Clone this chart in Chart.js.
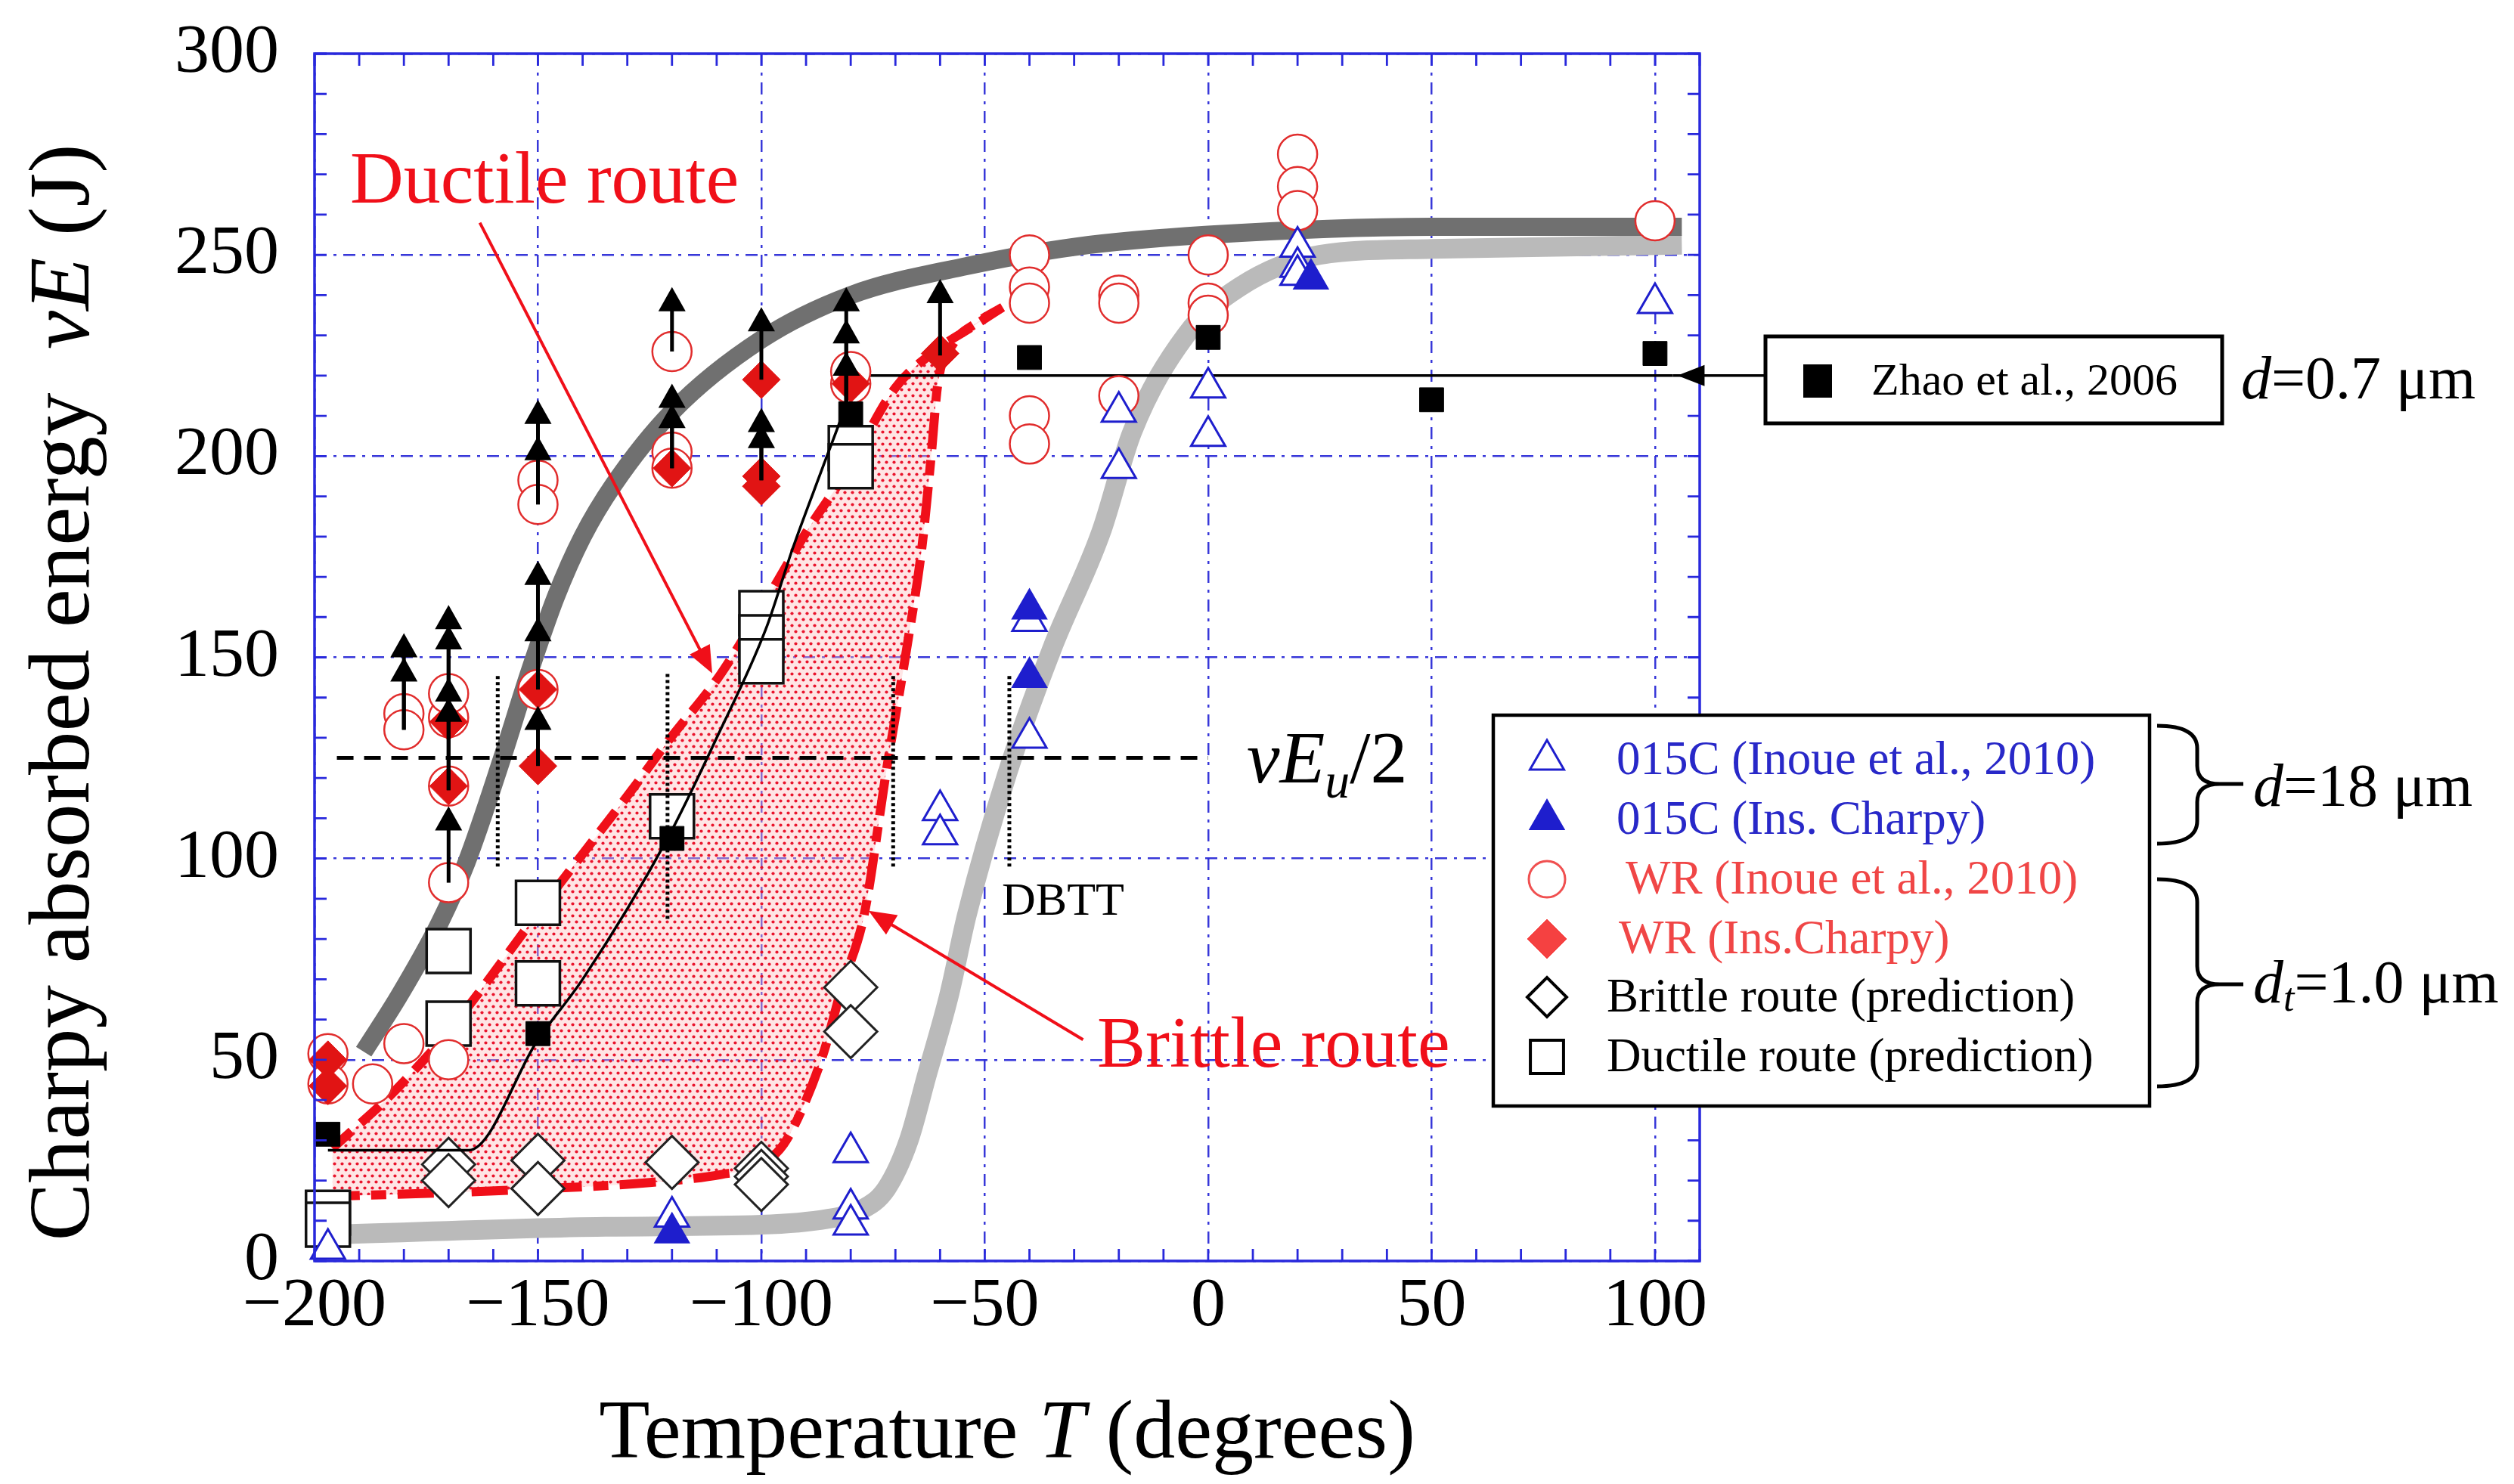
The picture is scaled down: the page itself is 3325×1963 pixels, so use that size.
<!DOCTYPE html>
<html>
<head>
<meta charset="utf-8">
<title>Charpy absorbed energy vs temperature</title>
<script src="https://cdn.jsdelivr.net/npm/chart.js@4.4.1/dist/chart.umd.min.js"></script>
<style>
  html, body { margin: 0; padding: 0; background: #ffffff; }
  #wrap { position: relative; width: 3325px; height: 1963px; }
</style>
</head>
<body>
<div id="wrap"><canvas id="chart" width="3325" height="1963"></canvas></div>
<script>
// ---- axes ----
const xTickValues = [-200, -150, -100, -50, 0, 50, 100];
const yTickValues = [0, 50, 100, 150, 200, 250, 300];

// ---- thick grey fit curves ----
const wrFitT = [-189, -181, -172, -166, -158, -152, -146, -140, -133, -120, -100, -80, -55, -30, 0, 50, 106];
const wrFitE = [52, 66, 84, 99, 125, 146, 165, 180, 193, 211, 229, 240, 247, 252, 255, 257, 257];
const c015FitT = [-198, -135, -100, -85, -78, -72, -67, -63, -58, -54, -45, -35, -24, -17, -5, 7, 25, 50, 106];
const c015FitE = [6.5, 8.5, 9, 10.5, 12.5, 18, 30, 46, 66, 86, 121, 152, 181, 206, 230, 242, 250, 251.5, 252.5];

// ---- predicted route envelopes (dotted band between them) ----
const ductRouteT = [-196, -192, -185, -178, -170, -163, -155, -147, -138, -129, -121, -109, -99, -90, -81, -70, -60, -53, -46];
const ductRouteE = [28, 32, 39, 47, 57, 67, 79, 91, 104, 117, 129, 146, 164, 181, 196, 217, 227, 232, 237];
const brittleRouteT = [-198, -170, -148, -125, -109, -100, -95, -90, -86, -82, -77, -72, -67.5, -64, -62, -60.5, -57, -52, -46];
const brittleRouteE = [16, 17, 18, 19.5, 21.5, 24, 29, 40, 52, 68, 86, 122, 152, 178, 200, 218, 228, 233, 237];

// ---- Zhao et al. fit, vEu/2 level, DBTT markers ----
const zhaoFitT = [-197, -165.5, -150, -140, -121, -110, -99, -93, -86, -81, -79, 104];
const zhaoFitE = [27.5, 27.5, 55, 70, 105, 130, 157, 177, 198, 213, 220, 220];
const halfT = [-195, 0];
const halfE = [125, 125];
const dbttT = [-159, -121, -70.5, -44.5];
const dbttLow = [98, 85, 98, 98];
const dbttHigh = [146, 146, 146, 146];

// ---- measured / predicted points ----
const c015T = [-197, -120, -80, -80, -80, -60, -60, -40, -40, -20, -20, 0, 0, 20, 20, 20, 100];
const c015E = [3, 11, 27, 13, 9, 112, 106, 159, 130, 197, 211, 217, 205, 252, 247, 245, 238];
const c015InsT = [-120, -40, -40, 23];
const c015InsE = [7, 162, 145, 244];
const wrT = [-197, -197, -187, -180, -180, -180, -170, -170, -170, -170, -170, -150, -150, -150, -120, -120, -120, -80, -80, -40, -40, -40, -40, -40, -20, -20, -20, 0, 0, 0, 20, 20, 20, 100];
const wrE = [51.5, 44, 44, 54, 136, 132, 50, 94, 118, 135, 141, 142, 194, 188, 226, 201, 197, 218, 221, 250, 242, 238, 210, 203, 240, 238, 215, 250, 238, 235, 275, 267, 261, 258.5];
const wrInsT = [-197, -197, -170, -170, -150, -150, -120, -100, -100, -100, -80, -60];
const wrInsE = [50, 43.5, 134, 118, 142, 123, 197, 219, 195, 192.5, 218, 225.5];
const brittlePredT = [-170, -170, -150, -150, -120, -100, -100, -100, -80, -80];
const brittlePredE = [24, 20, 25, 18, 24.5, 23, 21, 19, 68, 57];
const ductilePredT = [-197, -197, -170, -170, -150, -150, -120, -100, -100, -100, -80, -80];
const ductilePredE = [12, 9, 77, 59, 89, 69, 110.5, 161, 155, 149, 202, 197.5];
const zhaoT = [-197, -150, -120, -80, -40, 0, 50, 100];
const zhaoE = [31.5, 56.5, 105, 210.5, 224.5, 229.5, 214, 225.5];

// ---- lower-bound arrows (specimen not broken) ----
const arrowT = [-180, -180, -170, -170, -170, -170, -170, -150, -150, -150, -150, -150, -120, -120, -120, -100, -100, -100, -81, -81, -81, -60];
const arrowFrom = [132, 132, 94, 117, 117, 134, 134, 123, 142, 142, 188, 188, 226, 197, 197, 219, 194, 194, 211, 211, 211, 225];
const arrowTo = [150, 156, 113, 158, 163, 140, 145, 138, 160, 174, 205, 214, 242, 213, 218, 237, 208, 212, 226, 234, 242, 244];

// ---- annotation pointers ----
const ductileArrowT = [-163, -111];
const ductileArrowE = [258, 146];
const brittleArrowT = [-28, -76];
const brittleArrowE = [55, 87];
const zhaoLevel = 220;

const serif = "'Liberation Serif', 'Times New Roman', serif";
const BLUE = 'rgb(30,30,205)';
const GRID = 'rgba(45,45,215,0.95)';
const RED = 'rgb(240,15,25)';
const CIRCLE_RED = 'rgb(225,45,45)';

const pts = (xs, ys) => xs.map((x, i) => ({ x: x, y: ys[i] }));

const canvas = document.getElementById('chart');
const mainCtx = canvas.getContext('2d');

function dotPattern() {
    const c = document.createElement('canvas');
    c.width = 10;
    c.height = 16;
    const g = c.getContext('2d');
    g.fillStyle = 'rgba(255,190,190,0.4)';
    g.fillRect(0, 0, 10, 16);
    g.fillStyle = 'rgba(232,10,35,0.95)';
    [[2.5, 3.5], [7.5, 11.5]].forEach(p => {
        g.beginPath();
        g.arc(p[0], p[1], 2.1, 0, Math.PI * 2);
        g.fill();
    });
    return mainCtx.createPattern(c, 'repeat');
}
const dots = dotPattern();

function curve(label, xs, ys, color, width, order, extra) {
    return Object.assign({
        label: label,
        data: pts(xs, ys),
        showLine: true,
        pointRadius: 0,
        borderColor: color,
        borderWidth: width,
        backgroundColor: color,
        fill: false,
        cubicInterpolationMode: 'monotone',
        clip: false,
        order: order
    }, extra || {});
}

function marks(label, xs, ys, style, r, fill, stroke, lw, order) {
    return {
        label: label,
        data: pts(xs, ys),
        showLine: false,
        pointStyle: style,
        pointRadius: r,
        pointBackgroundColor: fill,
        pointBorderColor: stroke,
        pointBorderWidth: lw,
        borderColor: stroke,
        backgroundColor: fill,
        clip: false,
        order: order
    };
}

const datasets = [
    curve('015C fit', c015FitT, c015FitE, 'rgb(186,186,186)', 26, 40),
    curve('WR fit', wrFitT, wrFitE, 'rgb(112,112,112)', 24, 39),
    curve('Ductile route', ductRouteT, ductRouteE, RED, 12, 38, {
        borderDash: [34, 16],
        backgroundColor: dots,
        fill: { target: '+1', above: dots, below: dots }
    }),
    curve('Brittle route', brittleRouteT, brittleRouteE, RED, 12, 37, { borderDash: [48, 15, 20, 15] }),
    marks('Ductile route (prediction)', ductilePredT, ductilePredE, 'rect', 41, '#ffffff', '#111111', 3.5, 30),
    marks('Brittle route (prediction)', brittlePredT, brittlePredE, 'rectRot', 35, '#ffffff', '#222222', 3, 29),
    curve('vEu/2', halfT, halfE, '#000000', 5, 27, { borderDash: [22, 14], cubicInterpolationMode: 'default', tension: 0 }),
    curve('Zhao fit', zhaoFitT, zhaoFitE, '#000000', 3.5, 26)
];
dbttT.forEach((t, i) => {
    datasets.push(curve('DBTT ' + t, [t, t], [dbttLow[i], dbttHigh[i]], '#000000', 5, 28,
        { borderDash: [4, 4], cubicInterpolationMode: 'default', tension: 0 }));
});
datasets.push(
    marks('WR (Inoue et al., 2010)', wrT, wrE, 'circle', 26, '#ffffff', CIRCLE_RED, 2.5, 20),
    marks('WR (Ins.Charpy)', wrInsT, wrInsE, 'rectRot', 25, 'rgb(225,20,20)', 'rgb(225,20,20)', 1, 19),
    marks('015C (Inoue et al., 2010)', c015T, c015E, 'triangle', 26, '#ffffff', BLUE, 3, 18),
    marks('015C (Ins. Charpy)', c015InsT, c015InsE, 'triangle', 26, BLUE, BLUE, 2, 17),
    marks('Zhao et al., 2006', zhaoT, zhaoE, 'rect', 22.5, '#000000', '#000000', 1, 16)
);

// ---- drawing helpers ----
const fontOf = r => (r.i ? 'italic ' : '') + r.s + 'px ' + serif;

function drawRuns(ctx, runs, x, y, align) {
    let w = 0;
    runs.forEach(r => { ctx.font = fontOf(r); w += ctx.measureText(r.t).width; });
    let cx = align === 'center' ? x - w / 2 : (align === 'right' ? x - w : x);
    ctx.textAlign = 'left';
    runs.forEach(r => {
        ctx.font = fontOf(r);
        ctx.fillText(r.t, cx, y + (r.dy || 0));
        cx += ctx.measureText(r.t).width;
    });
}

function head(ctx, tx, ty, ang, len, hw) {
    const bx = tx - Math.cos(ang) * len, by = ty - Math.sin(ang) * len;
    const nx = -Math.sin(ang) * hw, ny = Math.cos(ang) * hw;
    ctx.beginPath();
    ctx.moveTo(tx, ty);
    ctx.lineTo(bx + nx, by + ny);
    ctx.lineTo(bx - nx, by - ny);
    ctx.closePath();
    ctx.fill();
}

function marker(ctx, style, x, y, r, fill, stroke, lw) {
    ctx.beginPath();
    if (style === 'circle') {
        ctx.arc(x, y, r, 0, Math.PI * 2);
    } else if (style === 'triangle') {
        for (let k = 0; k < 3; k++) {
            const a = k * 2 * Math.PI / 3;
            const px = x + Math.sin(a) * r, py = y - Math.cos(a) * r;
            if (k === 0) ctx.moveTo(px, py); else ctx.lineTo(px, py);
        }
    } else if (style === 'rectRot') {
        ctx.moveTo(x - r, y); ctx.lineTo(x, y - r); ctx.lineTo(x + r, y); ctx.lineTo(x, y + r);
    } else {
        const s = r * Math.SQRT1_2;
        ctx.rect(x - s, y - s, 2 * s, 2 * s);
    }
    ctx.closePath();
    if (fill) { ctx.fillStyle = fill; ctx.fill(); }
    if (stroke) { ctx.strokeStyle = stroke; ctx.lineWidth = lw; ctx.stroke(); }
}

function brace(ctx, x0, xs, xt, yTop, yMid, yBot) {
    ctx.beginPath();
    ctx.moveTo(x0, yTop);
    ctx.quadraticCurveTo(xs, yTop, xs, yTop + 30);
    ctx.lineTo(xs, yMid - 24);
    ctx.quadraticCurveTo(xs, yMid, xs + 30, yMid);
    ctx.lineTo(xt, yMid);
    ctx.moveTo(xs + 30, yMid);
    ctx.quadraticCurveTo(xs, yMid, xs, yMid + 24);
    ctx.lineTo(xs, yBot - 30);
    ctx.quadraticCurveTo(xs, yBot, x0, yBot);
    ctx.stroke();
}

const legendRows = [
    { style: 'triangle', r: 26, fill: '#ffffff', stroke: BLUE, lw: 3, text: '015C (Inoue et al., 2010)', color: 'rgb(40,40,200)', tx: 2138, y: 1005 },
    { style: 'triangle', r: 26, fill: BLUE, stroke: BLUE, lw: 2, text: '015C (Ins. Charpy)', color: 'rgb(40,40,200)', tx: 2138, y: 1084 },
    { style: 'circle', r: 24, fill: '#ffffff', stroke: 'rgb(240,80,80)', lw: 3, text: 'WR (Inoue et al., 2010)', color: 'rgb(240,70,70)', tx: 2150, y: 1163 },
    { style: 'rectRot', r: 26, fill: 'rgb(245,65,65)', stroke: 'rgb(245,65,65)', lw: 1, text: 'WR (Ins.Charpy)', color: 'rgb(240,70,70)', tx: 2141, y: 1242 },
    { style: 'rectRot', r: 26, fill: '#ffffff', stroke: '#000000', lw: 4, text: 'Brittle route (prediction)', color: '#000000', tx: 2125, y: 1319 },
    { style: 'rect', r: 31, fill: '#ffffff', stroke: '#000000', lw: 4, text: 'Ductile route (prediction)', color: '#000000', tx: 2125, y: 1398 }
];

const decor = {
    id: 'decor',
    afterDatasetsDraw(chart) {
        const { ctx, chartArea: a, scales: { x, y } } = chart;
        ctx.save();

        // upward arrows
        ctx.fillStyle = '#000';
        ctx.strokeStyle = '#000';
        ctx.lineWidth = 5;
        arrowT.forEach((t, i) => {
            const px = x.getPixelForValue(t);
            const y0 = y.getPixelForValue(arrowFrom[i]);
            const y1 = y.getPixelForValue(arrowTo[i]);
            ctx.beginPath();
            ctx.moveTo(px, y0);
            ctx.lineTo(px, y1 + 22);
            ctx.stroke();
            head(ctx, px, y1, -Math.PI / 2, 32, 18);
        });

        // red pointers from the route labels
        ctx.strokeStyle = RED;
        ctx.fillStyle = RED;
        ctx.lineWidth = 4;
        [[ductileArrowT, ductileArrowE], [brittleArrowT, brittleArrowE]].forEach(([ts, es]) => {
            const x0 = x.getPixelForValue(ts[0]), y0 = y.getPixelForValue(es[0]);
            const x1 = x.getPixelForValue(ts[1]), y1 = y.getPixelForValue(es[1]);
            const ang = Math.atan2(y1 - y0, x1 - x0);
            ctx.beginPath();
            ctx.moveTo(x0, y0);
            ctx.lineTo(x1 - Math.cos(ang) * 25, y1 - Math.sin(ang) * 25);
            ctx.stroke();
            head(ctx, x1, y1, ang, 36, 15);
        });

        // frame + inward ticks
        ctx.strokeStyle = 'rgb(40,40,220)';
        ctx.lineWidth = 3.5;
        ctx.strokeRect(a.left, a.top, a.right - a.left, a.bottom - a.top);
        ctx.lineWidth = 2.8;
        ctx.beginPath();
        for (let v = -200; v <= x.max; v += 10) {
            const px = x.getPixelForValue(v);
            ctx.moveTo(px, a.bottom); ctx.lineTo(px, a.bottom - 16);
            ctx.moveTo(px, a.top); ctx.lineTo(px, a.top + 16);
        }
        for (let v = 0; v <= 300; v += 10) {
            const py = y.getPixelForValue(v);
            ctx.moveTo(a.left, py); ctx.lineTo(a.left + 16, py);
            ctx.moveTo(a.right, py); ctx.lineTo(a.right - 16, py);
        }
        ctx.stroke();
        ctx.restore();
    },
    afterDraw(chart) {
        const { ctx, chartArea: a, scales: { x, y } } = chart;
        ctx.save();
        ctx.fillStyle = '#000';
        ctx.textBaseline = 'alphabetic';

        // axis titles
        drawRuns(ctx, [{ t: 'Temperature ', s: 110 }, { t: 'T', i: true, s: 110 }, { t: ' (degrees)', s: 110 }],
            (a.left + a.right) / 2, 1928, 'center');
        ctx.save();
        ctx.translate(117, 916);
        ctx.rotate(-Math.PI / 2);
        drawRuns(ctx, [{ t: 'Charpy absorbed energy  ', s: 115 }, { t: 'vE', i: true, s: 115 }, { t: ' (J)', s: 115 }], 0, 0, 'center');
        ctx.restore();

        // in-plot labels
        ctx.fillStyle = RED;
        drawRuns(ctx, [{ t: 'Ductile route', s: 98 }], 463, 268, 'left');
        drawRuns(ctx, [{ t: 'Brittle route', s: 96 }], 1451, 1411, 'left');
        ctx.fillStyle = '#000';
        drawRuns(ctx, [{ t: 'vE', i: true, s: 98 }, { t: 'u', i: true, s: 66, dy: 20 }, { t: '/2', s: 98 }], 1649, 1035, 'left');
        drawRuns(ctx, [{ t: 'DBTT', s: 62 }], 1325, 1210, 'left');

        // Zhao et al. pointer and box
        const zy = y.getPixelForValue(zhaoLevel);
        ctx.strokeStyle = '#000';
        ctx.lineWidth = 3.5;
        ctx.beginPath();
        ctx.moveTo(x.getPixelForValue(104), zy);
        ctx.lineTo(2335, zy);
        ctx.stroke();
        ctx.fillStyle = '#000';
        head(ctx, x.getPixelForValue(105), zy, Math.PI, 36, 14);
        ctx.fillStyle = '#fff';
        ctx.fillRect(2335, 445, 604, 115);
        ctx.lineWidth = 5;
        ctx.strokeRect(2335, 445, 604, 115);
        ctx.fillStyle = '#000';
        ctx.fillRect(2385, 482, 38, 44);
        ctx.textBaseline = 'middle';
        drawRuns(ctx, [{ t: 'Zhao et al., 2006', s: 60 }], 2475, 506, 'left');
        drawRuns(ctx, [{ t: 'd', i: true, s: 80 }, { t: '=0.7 \u03bcm', s: 80 }], 2964, 506, 'left');

        // legend box
        ctx.fillStyle = '#fff';
        ctx.fillRect(1975, 946, 868, 517);
        ctx.strokeStyle = '#000';
        ctx.lineWidth = 4.5;
        ctx.strokeRect(1975, 946, 868, 517);
        legendRows.forEach(row => {
            marker(ctx, row.style, 2046, row.y, row.r, row.fill, row.stroke, row.lw);
            ctx.fillStyle = row.color;
            drawRuns(ctx, [{ t: row.text, s: 63 }], row.tx, row.y + 2, 'left');
        });

        // braces for grain size groups
        ctx.strokeStyle = '#000';
        ctx.lineWidth = 5;
        brace(ctx, 2853, 2906, 2967, 960, 1037, 1116);
        brace(ctx, 2853, 2906, 2967, 1163, 1302, 1437);
        ctx.fillStyle = '#000';
        drawRuns(ctx, [{ t: 'd', i: true, s: 80 }, { t: '=18 \u03bcm', s: 80 }], 2980, 1045, 'left');
        drawRuns(ctx, [{ t: 'd', i: true, s: 80 }, { t: 't', i: true, s: 52, dy: 18 }, { t: '=1.0 \u03bcm', s: 80 }], 2980, 1305, 'left');
        ctx.restore();
    }
};

const fmtTick = v => (v < 0 ? '\u2212' + Math.abs(v) : String(v));

new Chart(canvas, {
    type: 'line',
    data: { datasets: datasets },
    options: {
        responsive: false,
        animation: false,
        events: [],
        devicePixelRatio: 1,
        layout: { padding: { left: 0, top: 71, right: 1077, bottom: 0 } },
        plugins: {
            legend: { display: false },
            tooltip: { enabled: false },
            filler: { drawTime: 'beforeDatasetsDraw' }
        },
        scales: {
            x: {
                type: 'linear',
                min: -200,
                max: 110,
                afterBuildTicks: s => { s.ticks = xTickValues.map(v => ({ value: v })); },
                afterFit: s => { s.height = 295; s.paddingLeft = 0; s.paddingRight = 0; },
                grid: { color: GRID, lineWidth: 2.5, drawTicks: false },
                border: { display: false, dash: [16, 9, 4, 9] },
                ticks: {
                    color: '#000',
                    font: { family: serif, size: 92 },
                    padding: 6,
                    maxRotation: 0,
                    autoSkip: false,
                    callback: v => fmtTick(v)
                }
            },
            y: {
                type: 'linear',
                min: 0,
                max: 300,
                afterBuildTicks: s => { s.ticks = yTickValues.map(v => ({ value: v })); },
                afterFit: s => { s.width = 416; s.paddingTop = 0; s.paddingBottom = 0; },
                grid: { color: GRID, lineWidth: 2.5, drawTicks: false },
                border: { display: false, dash: [16, 9, 4, 9] },
                ticks: {
                    color: '#000',
                    font: { family: serif, size: 92 },
                    padding: 47,
                    autoSkip: false,
                    callback: v => fmtTick(v)
                }
            }
        }
    },
    plugins: [decor]
});
</script>
</body>
</html>
